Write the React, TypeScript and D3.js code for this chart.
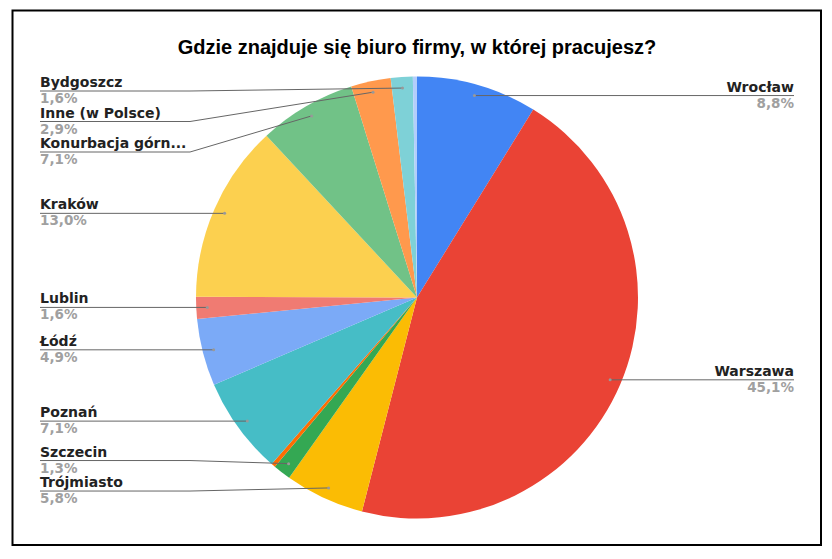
import { useMemo } from "react";
import * as d3 from "d3";

// Percent values (two unlabelled slivers ~0,3% each)
const cities = [
  "Wrocław",
  "Warszawa",
  "Trójmiasto",
  "Szczecin",
  "Za granicą",
  "Poznań",
  "Łódź",
  "Lublin",
  "Kraków",
  "Konurbacja górnośląska",
  "Inne (w Polsce)",
  "Bydgoszcz",
  "Zdalnie",
];
const shares = [8.8, 45.1, 5.8, 1.3, 0.3, 7.1, 4.9, 1.6, 13.0, 7.1, 2.9, 1.6, 0.3];
const palette = [
  "#4285f4",
  "#ea4335",
  "#fbbc04",
  "#34a853",
  "#ff6d01",
  "#46bdc6",
  "#7baaf7",
  "#f07b72",
  "#fcd04f",
  "#71c287",
  "#ff994d",
  "#7ed1d7",
  "#b3cefb",
];

const W = 832;
const H = 559;
const cx = 417;
const cy = 297.5;
const R = 221;
const labelGap = 30.5;
const labelFont = "'DejaVu Sans', Verdana, sans-serif";

interface Slice {
  name: string;
  value: number;
  color: string;
}

const shorten = (s: string) => (s.length > 17 ? s.slice(0, 15) + "..." : s);
const fmt = (v: number) => v.toFixed(1).replace(".", ",") + "%";

export default function App() {
  const data: Slice[] = cities.map((name, i) => ({
    name,
    value: shares[i],
    color: palette[i],
  }));

  const arcs = useMemo(
    () =>
      d3
        .pie<Slice>()
        .sort(null)
        .value((d) => d.value)(data),
    []
  );

  const arc = d3.arc<d3.PieArcDatum<Slice>>().innerRadius(0).outerRadius(R);

  // label anchors + simple collision relaxation per side
  const labelled = arcs
    .filter((a) => a.data.value >= 1)
    .map((a) => {
      const mid = (a.startAngle + a.endAngle) / 2;
      const ax = cx + 0.95 * R * Math.sin(mid);
      const ay = cy - 0.95 * R * Math.cos(mid);
      return { a, ax, ay, y: ay, right: Math.sin(mid) >= 0 };
    });

  for (const side of [true, false]) {
    const group = labelled.filter((l) => l.right === side).sort((p, q) => p.ay - q.ay);
    for (let it = 0; it < 200; it++) {
      for (let i = 0; i < group.length - 1; i++) {
        const overlap = labelGap - (group[i + 1].y - group[i].y);
        if (overlap > 0) {
          group[i].y -= overlap / 2;
          group[i + 1].y += overlap / 2;
        }
      }
      group.forEach((l) => {
        l.y = Math.max(91, Math.min(505, l.y));
      });
    }
  }

  return (
    <svg
      width={W}
      height={H}
      style={{ position: "absolute", left: 0, top: 0, background: "#fff" }}
    >
      <rect x={12.5} y={10.5} width={808.5} height={534.5} fill="#fff" stroke="#000" strokeWidth={2} />

      <text
        x={cx}
        y={54}
        textAnchor="middle"
        style={{ font: "bold 20px 'Liberation Sans', Arial, sans-serif", fill: "#000" }}
      >
        Gdzie znajduje się biuro firmy, w której pracujesz?
      </text>

      <g transform={`translate(${cx},${cy})`}>
        {arcs.map((a, i) => (
          <path key={i} d={arc(a) ?? ""} fill={a.data.color} />
        ))}
      </g>

      {labelled.map((l, i) => {
        const lx = l.right ? 794 : 40;
        const bend = l.right ? lx - 150 : lx + 150;
        const path = d3.path();
        path.moveTo(lx, l.y);
        path.lineTo(bend, l.y);
        path.lineTo(l.ax, l.ay);
        return (
          <g key={i}>
            <path d={path.toString()} fill="none" stroke="#666" strokeWidth={1} />
            <circle cx={l.ax} cy={l.ay} r={1.5} fill="#999" />
            <text
              x={lx}
              y={l.y - 4}
              textAnchor={l.right ? "end" : "start"}
              style={{ font: `bold 14px ${labelFont}`, fill: "#222" }}
            >
              {shorten(l.a.data.name)}
            </text>
            <text
              x={lx}
              y={l.y + 12}
              textAnchor={l.right ? "end" : "start"}
              style={{ font: `bold 13.5px ${labelFont}`, fill: "#a0a0a0" }}
            >
              {fmt(l.a.data.value)}
            </text>
          </g>
        );
      })}
    </svg>
  );
}
